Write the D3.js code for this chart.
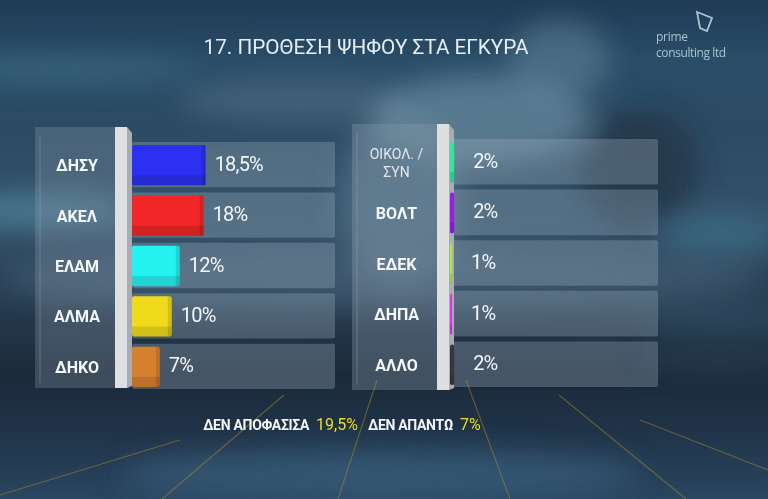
<!DOCTYPE html>
<html>
<head>
<meta charset="utf-8">
<script src="https://cdn.jsdelivr.net/npm/d3@7/dist/d3.min.js"></script>
<style>
html,body{margin:0;padding:0;background:#1d3044;overflow:hidden;}
svg{display:block;}
</style>
</head>
<body>
<svg id="chart" width="768" height="499"></svg>
<script>
// ---- data ----
const title = "17. ΠΡΟΘΕΣΗ ΨΗΦΟΥ ΣΤΑ ΕΓΚΥΡΑ";
const leftCats = ["ΔΗΣΥ", "ΑΚΕΛ", "ΕΛΑΜ", "ΑΛΜΑ", "ΔΗΚΟ"];
const leftValues = [18.5, 18, 12, 10, 7];
const leftLabels = ["18,5%", "18%", "12%", "10%", "7%"];
const leftColors = ["#2c30f2", "#f22626", "#24f2f0", "#f0da1c", "#d5812e"];
const rightCats = ["ΟΙΚΟΛ. / ΣΥΝ", "ΒΟΛΤ", "ΕΔΕΚ", "ΔΗΠΑ", "ΑΛΛΟ"];
const rightValues = [2, 2, 1, 1, 2];
const rightLabels = ["2%", "2%", "1%", "1%", "2%"];
const rightColors = ["#2ee89c", "#9a1ee2", "#a4ee3c", "#e032ea", "#36363e"];
const footerNames = ["ΔΕΝ ΑΠΟΦΑΣΙΣΑ", "ΔΕΝ ΑΠΑΝΤΩ"];
const footerValues = ["19,5%", "7%"];

const svg = d3.select("#chart");
const W = 768, H = 499;
const defs = svg.append("defs");

// ---- background ----
const bg = defs.append("linearGradient").attr("id", "bg").attr("x1", 0).attr("y1", 0).attr("x2", 0).attr("y2", 1);
[[0, "#1f3b55"], [0.12, "#2a4d68"], [0.25, "#2c4b63"], [0.45, "#34526a"], [0.62, "#263a4e"], [0.75, "#1b2a3a"], [0.85, "#1f3246"], [1, "#2a4660"]]
  .forEach(d => bg.append("stop").attr("offset", d[0]).attr("stop-color", d[1]));
svg.append("rect").attr("width", W).attr("height", H).attr("fill", "url(#bg)");

const blur = defs.append("filter").attr("id", "blur").attr("x", "-50%").attr("y", "-50%").attr("width", "200%").attr("height", "200%");
blur.append("feGaussianBlur").attr("stdDeviation", 14);

const glow = svg.append("g").attr("filter", "url(#blur)");
const streaks = [
  [60, 70, 140, 10, "#4a7a95", 0.6],
  [40, 210, 90, 14, "#5a93aa", 0.7],
  [300, 100, 120, 22, "#5d7d92", 0.45],
  [480, 120, 110, 45, "#7597ab", 0.6],
  [560, 60, 50, 40, "#6f92a6", 0.45],
  [400, 200, 60, 90, "#6a8a9e", 0.45],
  [640, 170, 60, 60, "#1c2c3c", 0.6],
  [380, 280, 380, 30, "#5e7c92", 0.35],
  [720, 235, 60, 20, "#3f7590", 0.6],
  [720, 320, 80, 8, "#3c6580", 0.6],
  [720, 362, 80, 6, "#3c6580", 0.5],
  [380, 475, 260, 25, "#3e6585", 0.6]
];
streaks.forEach(s => glow.append("ellipse").attr("cx", s[0]).attr("cy", s[1]).attr("rx", s[2]).attr("ry", s[3]).attr("fill", s[4]).attr("opacity", s[5]));

// floor lines
const floorLines = [[284, 395, 162, 499], [377, 380, 338, 499], [466, 380, 510, 499], [559, 395, 686, 499], [180, 440, 0, 495], [640, 420, 768, 470]];
const floorSharp = svg.append("g").attr("stroke", "#b08a28").attr("stroke-width", 1.1).attr("opacity", 0.5);
floorLines.forEach(l => floorSharp.append("line").attr("x1", l[0]).attr("y1", l[1]).attr("x2", l[2]).attr("y2", l[3]));

// ---- title ----
svg.append("text").attr("x", 366).attr("y", 54).attr("text-anchor", "middle")
  .attr("font-family", "Roboto, 'Noto Sans', sans-serif").attr("font-size", 21)
  .attr("fill", "#e6eef3").attr("textLength", 325).attr("lengthAdjust", "spacingAndGlyphs")
  .text(title);

// ---- logo ----
const logo = svg.append("g").attr("fill", "#a9c6cf").attr("font-family", "'Open Sans', sans-serif");
logo.append("path").attr("d", "M697,12 L712,18 L707,31 L700,28 Z").attr("fill", "none").attr("stroke", "#a9c6cf").attr("stroke-width", 1.8);
logo.append("text").attr("x", 656).attr("y", 41).attr("font-size", 12).attr("letter-spacing", -0.3).text("prime");
logo.append("text").attr("x", 656).attr("y", 57).attr("font-size", 12).attr("letter-spacing", -0.4).text("consulting ltd");

// ---- panel builder ----
function panel(opts) {
  const g = svg.append("g");
  g.append("rect").attr("x", opts.lx0).attr("y", opts.top).attr("width", opts.lx1 - opts.lx0).attr("height", opts.bottom - opts.top)
    .attr("fill", "#8a9aab").attr("opacity", opts.panelOp);
  g.append("line").attr("x1", opts.lx0 + 5).attr("x2", opts.lx0 + 5).attr("y1", opts.top + 8).attr("y2", opts.bottom - 5)
    .attr("stroke", "#aab6c2").attr("opacity", 0.35);

  const y = d3.scaleBand().domain(opts.cats).range([opts.y0, opts.y1]).paddingInner(0.1).paddingOuter(0);
  const x = d3.scaleLinear().domain([0, opts.max]).range([opts.bx, opts.rowEnd]);

  g.selectAll(".row").data(opts.cats).join("rect")
    .attr("x", opts.bx).attr("y", d => y(d)).attr("width", opts.rowEnd - opts.bx).attr("height", y.bandwidth())
    .attr("rx", 2).attr("fill", "#a0b0c0").attr("opacity", 0.32);

  g.append("rect").attr("x", opts.lx1).attr("y", opts.top).attr("width", 12).attr("height", opts.bottom - opts.top)
    .attr("fill", "#dedfe1");
  g.append("path").attr("d", `M${opts.lx1 + 12},${opts.top} L${opts.lx1 + 17},${opts.top + 6} L${opts.lx1 + 17},${opts.bottom - 2} L${opts.lx1 + 12},${opts.bottom} Z`)
    .attr("fill", "#a9adb3");

  g.selectAll(".bar").data(opts.values).join("rect")
    .attr("x", x(0)).attr("y", (d, i) => y(opts.cats[i]) + 3)
    .attr("width", d => x(d) - x(0)).attr("height", y.bandwidth() - 5)
    .attr("rx", 2).attr("fill", (d, i) => opts.colors[i]);
  g.selectAll(".shade").data(opts.values).join("rect")
    .attr("x", x(0)).attr("y", (d, i) => y(opts.cats[i]) + 3 + (y.bandwidth() - 5) * 0.75)
    .attr("width", d => x(d) - x(0)).attr("height", (y.bandwidth() - 5) * 0.25)
    .attr("fill", "#000").attr("opacity", 0.12);
  if (opts.side) {
    g.selectAll(".side").data(opts.values).join("rect")
      .attr("x", d => x(d) - 4).attr("y", (d, i) => y(opts.cats[i]) + 3)
      .attr("width", 4).attr("height", y.bandwidth() - 5)
      .attr("fill", "#000").attr("opacity", 0.12);
  }

  g.selectAll(".val").data(opts.values).join("text")
    .attr("x", d => x(d) + opts.valOff).attr("y", (d, i) => y(opts.cats[i]) + y.bandwidth() / 2 - 1)
    .attr("dominant-baseline", "central")
    .attr("font-family", "Roboto, 'Noto Sans', sans-serif").attr("font-size", 20)
    .attr("letter-spacing", -0.8).attr("fill", "#f4f6f8")
    .text((d, i) => opts.labels[i]);

  const cx = (opts.lx0 + opts.lx1) / 2 + 2;
  opts.cats.forEach((c, i) => {
    const cy = y(c) + y.bandwidth() / 2;
    if (c.includes(" / ")) {
      const parts = c.split(" / ");
      const t = g.append("text").attr("x", cx).attr("text-anchor", "middle")
        .attr("font-family", "Roboto, 'Noto Sans', sans-serif").attr("font-size", 14)
        .attr("fill", "#e2e8ee");
      t.append("tspan").attr("x", cx).attr("y", cy - 3).text(parts[0] + " /");
      t.append("tspan").attr("x", cx).attr("y", cy + 15).text(parts[1]);
    } else {
      g.append("text").attr("x", cx).attr("y", cy + 1).attr("text-anchor", "middle")
        .attr("dominant-baseline", "central")
        .attr("font-family", "Roboto, 'Noto Sans', sans-serif").attr("font-size", 16).attr("font-weight", 700)
        .attr("fill", "#f4f6f8").text(c);
    }
  });
}

panel({
  cats: leftCats, values: leftValues, labels: leftLabels, colors: leftColors,
  lx0: 35, lx1: 115, top: 127, bottom: 388, y0: 142, y1: 389,
  bx: 132, rowEnd: 335, max: 51, valOff: 9, side: true, panelOp: 0.3
});
panel({
  cats: rightCats, values: rightValues, labels: rightLabels, colors: rightColors,
  lx0: 352, lx1: 437, top: 124, bottom: 390, y0: 139, y1: 387,
  bx: 450, rowEnd: 658, max: 100, valOff: 19, side: false, panelOp: 0.35
});

// ---- footer ----
const foot = svg.append("text").attr("x", 342).attr("y", 430).attr("text-anchor", "middle")
  .attr("font-family", "Roboto, 'Noto Sans', sans-serif").attr("font-size", 14).attr("font-weight", 700);
footerNames.forEach((n, i) => {
  foot.append("tspan").attr("fill", "#f2f4f6").attr("letter-spacing", -0.3).attr("dx", i === 0 ? 0 : 10).text(n);
  foot.append("tspan").attr("fill", "#eedd2a").attr("font-weight", 400).attr("font-size", 16).attr("dx", 7).text(footerValues[i]);
});
</script>
</body>
</html>
